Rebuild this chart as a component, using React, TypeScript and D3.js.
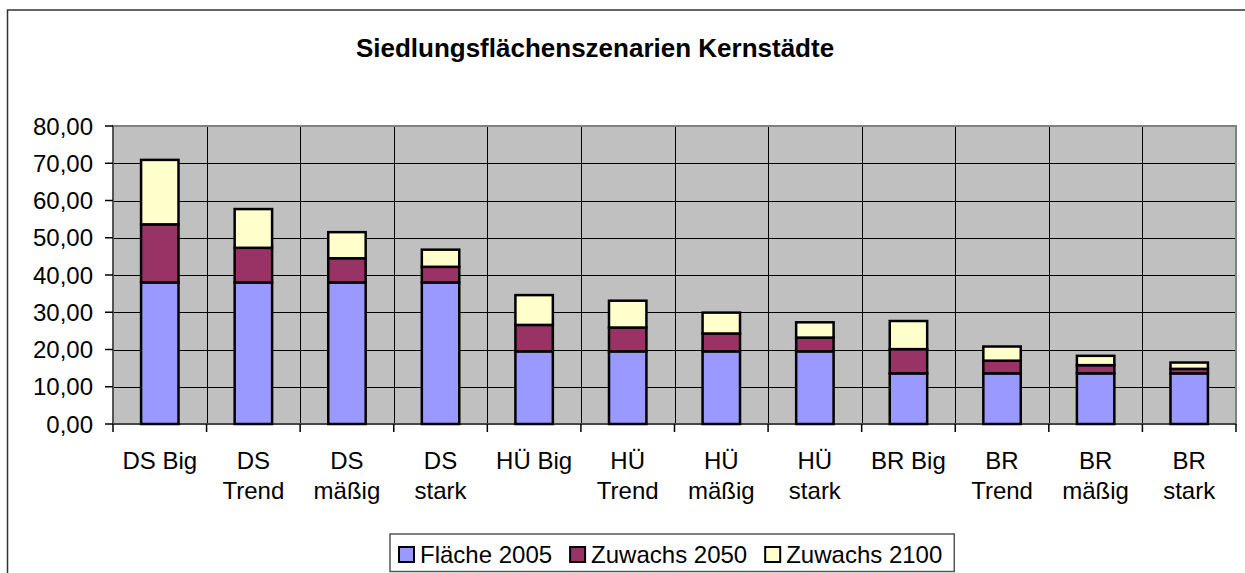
import React from "react";
import * as d3 from "d3";

const categories = ["DS Big", "DS Trend", "DS mäßig", "DS stark", "HÜ Big", "HÜ Trend", "HÜ mäßig", "HÜ stark", "BR Big", "BR Trend", "BR mäßig", "BR stark"];
const flaeche2005 = [38.0, 38.0, 38.0, 38.0, 19.5, 19.5, 19.5, 19.5, 13.6, 13.6, 13.6, 13.6];
const zuwachs2050 = [15.6, 9.3, 6.5, 4.2, 7.1, 6.4, 4.8, 3.7, 6.5, 3.4, 2.2, 1.2];
const zuwachs2100 = [17.3, 10.4, 7.0, 4.6, 8.0, 7.2, 5.6, 4.1, 7.55, 3.8, 2.5, 1.7];
const seriesNames = ["Fläche 2005", "Zuwachs 2050", "Zuwachs 2100"];
const seriesColors = ["#9999FF", "#993366", "#FFFFCC"];
const yTicks = [0, 10, 20, 30, 40, 50, 60, 70, 80];
const title = "Siedlungsflächenszenarien Kernstädte";

const FONT = "'Liberation Sans', Arial, sans-serif";

function measure(text: string, size: number, weight = "normal") {
  const c = document.createElement("canvas").getContext("2d");
  if (!c) return text.length * size * 0.55;
  c.font = `${weight} ${size}px ${FONT}`;
  return c.measureText(text).width;
}

export default function App() {
  const W = 1245, H = 573;
  const left = 113, right = 1236, top = 126, bottom = 424;
  const x = d3.scaleBand<string>().domain(categories).range([left, right]).paddingInner(0).paddingOuter(0);
  const y = d3.scaleLinear().domain([0, 80]).range([bottom, top]);
  const bw = x.bandwidth();
  const barW = bw * 0.4;

  const table = categories.map((c, i) => ({ cat: c, s0: flaeche2005[i], s1: zuwachs2050[i], s2: zuwachs2100[i] }));
  const stack = d3.stack<any>().keys(["s0", "s1", "s2"])(table);
  const fmt = (v: number) => d3.format(".2f")(v).replace(".", ",");

  const wrap = (label: string) => {
    if (measure(label, 24) > 85) return label.split(" ");
    return [label];
  };

  // legend layout
  const legFont = 24;
  const legLeft = 390;
  const gap = 18;
  let lx = 399;
  const legendItems = seriesNames.map((n, i) => {
    const item = { x: lx, name: n, color: seriesColors[i] };
    lx += 21 + measure(n, legFont) + gap;
    return item;
  });
  const legRight = lx - gap + 12;

  return (
    <div style={{ position: "fixed", left: 0, top: 0 }}>
      <svg width={W} height={H} style={{ display: "block", fontFamily: FONT }}>
        <rect x={0} y={0} width={W} height={H} fill="#fff" />
        <rect x={7.5} y={10} width={W + 50} height={H + 50} fill="#fff" stroke="#333" strokeWidth={1.5} />
        <text x={595} y={57} textAnchor="middle" fontSize={26} fontWeight="bold" fill="#000">{title}</text>

        <rect x={left} y={top} width={right - left} height={bottom - top} fill="#C0C0C0" />
        {yTicks.map(t => (
          <line key={"g" + t} x1={left} x2={right} y1={Math.round(y(t)) + 0.5} y2={Math.round(y(t)) + 0.5} stroke="#000" strokeWidth={1} />
        ))}
        {categories.slice(1).map(c => (
          <line key={"v" + c} x1={Math.round(x(c)!) + 0.5} x2={Math.round(x(c)!) + 0.5} y1={top} y2={bottom} stroke="#000" strokeWidth={1} />
        ))}
        <rect x={left} y={top} width={right - left} height={bottom - top} fill="none" stroke="#808080" strokeWidth={2} />
        <line x1={left} x2={right} y1={bottom} y2={bottom} stroke="#333" strokeWidth={1.5} />
        <line x1={left} x2={left} y1={top} y2={bottom} stroke="#555" strokeWidth={2} />

        {stack.map((layer, si) => (
          <g key={"s" + si}>
            {layer.map((d, i) => (
              <rect key={i}
                x={x(categories[i])! + (bw - barW) / 2}
                y={y(d[1])}
                width={barW}
                height={y(d[0]) - y(d[1])}
                fill={seriesColors[si]}
                stroke="#000"
                strokeWidth={2.5} />
            ))}
          </g>
        ))}

        {yTicks.map(t => (
          <g key={"yt" + t}>
            <line x1={105} x2={left} y1={y(t)} y2={y(t)} stroke="#000" strokeWidth={1.5} />
            <text x={93} y={y(t) + 8.5} textAnchor="end" fontSize={24} fill="#000">{fmt(t)}</text>
          </g>
        ))}
        {[...categories, null].map((c, i) => {
          const xx = i < categories.length ? x(c as string)! : right;
          return <line key={"xt" + i} x1={xx} x2={xx} y1={bottom} y2={bottom + 8} stroke="#000" strokeWidth={1.5} />;
        })}
        {categories.map(c => {
          const lines = wrap(c);
          return (
            <text key={"xl" + c} x={x(c)! + bw / 2} y={469} textAnchor="middle" fontSize={24} fill="#000">
              {lines.map((l, j) => (
                <tspan key={j} x={x(c)! + bw / 2} y={469 + j * 30}>{l}</tspan>
              ))}
            </text>
          );
        })}

        <rect x={legLeft} y={534} width={legRight - legLeft} height={37.5} fill="#fff" stroke="#555" strokeWidth={1.5} />
        {legendItems.map((it, i) => (
          <g key={"lg" + i}>
            <rect x={it.x} y={547} width={15} height={15} fill={it.color} stroke="#000" strokeWidth={2} />
            <text x={it.x + 21} y={563} fontSize={legFont} fill="#000">{it.name}</text>
          </g>
        ))}
      </svg>
    </div>
  );
}
